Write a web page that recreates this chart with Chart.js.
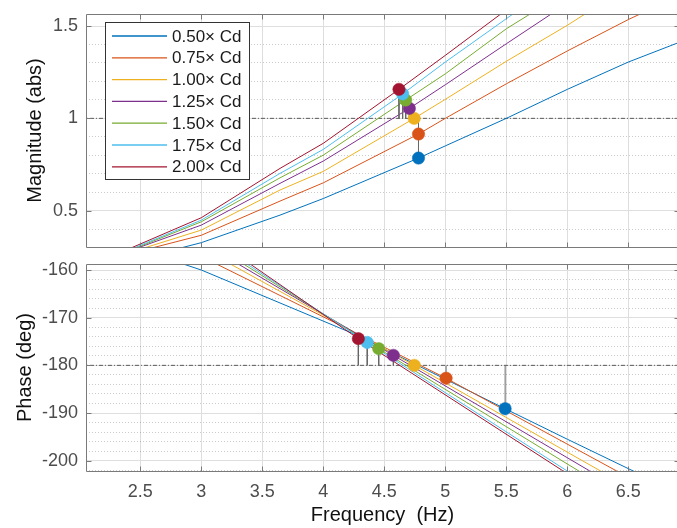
<!DOCTYPE html>
<html>
<head>
<meta charset="utf-8">
<script src="https://cdn.jsdelivr.net/npm/chart.js@4.4.1/dist/chart.umd.min.js"></script>
<style>
html,body{margin:0;padding:0;background:#fff;overflow:hidden;width:677px;height:528px;}
#wrap{position:relative;width:677px;height:528px;overflow:hidden;background:#fff;}
canvas{position:absolute;left:0;}
#c1{top:0;}
#c2{top:255px;}
</style>
</head>
<body>
<div id="wrap">
<canvas id="c1" width="692" height="255"></canvas>
<canvas id="c2" width="692" height="273"></canvas>
</div>
<script>
// ---------------- DATA ----------------
const seriesLabels = ['0.50\u00d7 Cd','0.75\u00d7 Cd','1.00\u00d7 Cd','1.25\u00d7 Cd','1.50\u00d7 Cd','1.75\u00d7 Cd','2.00\u00d7 Cd'];

// Magnitude curves (frequency in Hz, magnitude in abs)
const magFreq = [
  [2.70, 3.00, 3.645, 4.00, 4.78, 5.00, 5.50, 6.00, 6.50, 6.95],
  [2.50, 3.00, 3.645, 4.00, 4.78, 5.00, 5.50, 6.00, 6.50, 6.70],
  [2.40, 3.00, 3.645, 4.00, 4.745, 5.00, 5.50, 6.00, 6.25],
  [2.35, 3.00, 3.645, 4.00, 4.705, 5.00, 5.50, 5.95],
  [2.35, 3.00, 3.645, 4.00, 4.675, 5.00, 5.50, 5.80],
  [2.30, 3.00, 3.645, 4.00, 4.65, 5.00, 5.65],
  [2.30, 3.00, 3.645, 4.00, 4.62, 5.00, 5.55]
];
const magValue = [
  [0.276, 0.327, 0.476, 0.566, 0.785, 0.851, 1.000, 1.157, 1.305, 1.420],
  [0.282, 0.367, 0.552, 0.651, 0.915, 1.000, 1.187, 1.365, 1.535, 1.597],
  [0.271, 0.395, 0.612, 0.713, 1.000, 1.103, 1.309, 1.504, 1.609],
  [0.268, 0.422, 0.648, 0.769, 1.054, 1.182, 1.404, 1.601],
  [0.268, 0.440, 0.678, 0.801, 1.099, 1.241, 1.485, 1.608],
  [0.258, 0.449, 0.702, 0.832, 1.132, 1.305, 1.610],
  [0.263, 0.462, 0.729, 0.865, 1.157, 1.341, 1.612]
];

// Phase curves (frequency in Hz, phase in deg)
const phaseFreq = [
  [2.70, 3.00, 4.25, 5.49, 6.00, 6.60],
  [3.05, 4.25, 5.006, 6.40, 6.50],
  [3.15, 4.746, 6.268, 6.35],
  [3.20, 4.574, 6.18, 6.25],
  [3.25, 4.454, 6.09, 6.15],
  [3.30, 4.36, 5.995, 6.05],
  [3.30, 4.287, 5.962, 6.02]
];
const phaseValue = [
  [-157.45, -160.0, -173.4, -189.1, -195.5, -202.9],
  [-157.8, -173.0, -182.7, -202.1, -203.5],
  [-157.5, -180.0, -202.1, -203.3],
  [-157.2, -177.9, -202.1, -203.2],
  [-157.2, -176.5, -202.1, -203.0],
  [-157.5, -175.2, -202.1, -203.0],
  [-156.97, -174.4, -202.1, -203.1]
];

// Gain-margin markers (magnitude plot) and phase-margin markers (phase plot)
const gmFreq  = [4.78, 4.78, 4.745, 4.705, 4.675, 4.65, 4.62];
const gmMag   = [0.785, 0.915, 1.000, 1.054, 1.099, 1.132, 1.157];
const pmFreq  = [5.49, 5.006, 4.746, 4.574, 4.454, 4.36, 4.287];
const pmPhase = [-189.1, -182.7, -180.0, -177.9, -176.5, -175.2, -174.4];

const magThreshold = 1;
const phaseThreshold = -180;

// axis ranges / ticks
const freqMin = 2.055, freqMax = 6.915, freqStep = 0.5;
const magMin = 0.3035, magMax = 1.565, magStep = 0.1, magMajor = 0.5;
const phaseMin = -202.16, phaseMax = -158.74, phaseStep = 2, phaseMajor = 10;

// ---------------- STYLE ----------------
const seriesColors = ['#0072BD','#D95319','#EDB120','#7E2F8E','#77AC30','#4DBEEE','#A2142F'];
const FONT = "'Liberation Sans', Arial, Helvetica, sans-serif";
Chart.defaults.font.family = FONT;
const tickColor = '#4d4d4d';
const boxColor = '#7a7a7a';
const gridMajor = '#dedede';
const gridMinor = 'rgba(0,0,0,0.2)';

function isMultiple(v, m){ return Math.abs(v/m - Math.round(v/m)) < 1e-6; }

function curveSets(fr, vals){
  return seriesLabels.map((lab,i)=>({
    label: lab,
    data: fr[i].map((f,k)=>({x:f, y:vals[i][k]})),
    showLine: true, borderColor: seriesColors[i], backgroundColor: seriesColors[i],
    borderWidth: 1, pointRadius: 0, tension: 0, fill: false, order: 20 - i
  }));
}
function markerSets(fr, vals){
  return seriesLabels.map((lab,i)=>({
    label: '_m'+i,
    data: [{x: fr[i], y: vals[i]}],
    showLine: false, pointRadius: 6.2, pointBackgroundColor: seriesColors[i],
    pointBorderColor: seriesColors[i], pointBorderWidth: 0.5, order: -10 - i
  }));
}
function stemSets(fr, vals, thr){
  return seriesLabels.map((lab,i)=>({
    label: '_s'+i,
    data: [{x: fr[i], y: vals[i]}, {x: fr[i], y: thr}],
    showLine: true, borderColor: '#666666', borderWidth: 1, pointRadius: 0, order: 0
  }));
}
function thresholdSet(thr){
  return {
    label: '_t',
    data: [{x: freqMin - 1, y: thr}, {x: freqMax + 1, y: thr}],
    showLine: true, borderColor: '#5a5a5a', borderWidth: 1, borderDash: [4,2,1,2],
    pointRadius: 0, order: 30
  };
}

const boxPlugin = {
  id: 'boxTicks',
  afterDatasetsDraw(chart, args, opts){
    const {ctx, chartArea: a} = chart;
    const xs = chart.scales.x, ys = chart.scales.y;
    ctx.save();
    ctx.strokeStyle = boxColor; ctx.lineWidth = 1;
    const L = Math.round(a.left)+0.5, R = Math.round(a.right)+0.5, T = Math.round(a.top)+0.5, B = Math.round(a.bottom)+0.5;
    ctx.beginPath();
    ctx.rect(L, T, R-L, B-T);
    xs.ticks.forEach(t=>{
      const p = Math.round(xs.getPixelForValue(t.value))+0.5;
      ctx.moveTo(p, B); ctx.lineTo(p, B-5);
      ctx.moveTo(p, T); ctx.lineTo(p, T+5);
    });
    ys.ticks.forEach(t=>{
      if(!isMultiple(t.value, opts.major)) return;
      const p = Math.round(ys.getPixelForValue(t.value))+0.5;
      ctx.moveTo(L, p); ctx.lineTo(L+5, p);
      ctx.moveTo(R, p); ctx.lineTo(R-5, p);
    });
    ctx.stroke();
    ctx.restore();
  }
};

const legendPlugin = {
  id: 'boxLegend',
  afterDraw(chart, args, opts){
    if(!opts.show) return;
    const ctx = chart.ctx;
    ctx.save();
    ctx.fillStyle = '#fff';
    ctx.fillRect(106, 22, 143, 157);
    ctx.strokeStyle = '#333'; ctx.lineWidth = 1;
    ctx.strokeRect(105.5, 22.5, 144, 157);
    ctx.font = '17px ' + FONT;
    ctx.textBaseline = 'middle';
    ctx.textAlign = 'left';
    seriesLabels.forEach((lab,i)=>{
      const y = 36 + i*21.8;
      ctx.strokeStyle = seriesColors[i];
      ctx.lineWidth = 1.3;
      ctx.beginPath(); ctx.moveTo(112, y); ctx.lineTo(167, y); ctx.stroke();
      ctx.fillStyle = '#1a1a1a';
      ctx.fillText(lab, 172, y + 1);
    });
    ctx.restore();
  }
};

function yAxis(min, max, step, major, title, titlePad){
  return {
    type: 'linear', position: 'left', min, max,
    ticks: {
      stepSize: step, includeBounds: false, autoSkip: false,
      color: tickColor, padding: 8, font: {size: 18, family: FONT},
      callback: v => isMultiple(v, major) ? String(Math.round(v*1000)/1000) : ''
    },
    grid: {
      drawTicks: false,
      color: c => (c.tick && isMultiple(c.tick.value, major)) ? gridMajor : gridMinor,
      lineWidth: 1
    },
    border: { display: false, dash: c => (c.tick && !isMultiple(c.tick.value, major)) ? [1,2] : [] },
    title: { display: true, text: title, color: '#111', font: {size: 20, family: FONT}, padding: {top: titlePad, bottom: 0} },
    afterFit: s => { s.width = 86; s.paddingTop = 0; s.paddingBottom = 0; }
  };
}
function xAxis(showLabels, height){
  return {
    type: 'linear', position: 'bottom', min: freqMin, max: freqMax,
    ticks: {
      display: showLabels, stepSize: freqStep, includeBounds: false, autoSkip: false, maxRotation: 0,
      color: tickColor, padding: 10, font: {size: 18, family: FONT},
      callback: v => String(v)
    },
    grid: { drawTicks: false, color: gridMajor, lineWidth: 1 },
    border: { display: false },
    title: showLabels ? { display: true, text: 'Frequency  (Hz)', color: '#111', font: {size: 20, family: FONT}, padding: {top: 0, bottom: 1} } : {display: false},
    afterFit: s => { s.height = height; s.paddingLeft = 0; s.paddingRight = 0; }
  };
}

const common = {
  responsive: false, animation: false, devicePixelRatio: 1, events: [],
  plugins: { legend: {display: false}, tooltip: {enabled: false} }
};

new Chart(document.getElementById('c1'), {
  type: 'scatter',
  data: { datasets: [
    ...markerSets(gmFreq, gmMag),
    ...stemSets(gmFreq, gmMag, magThreshold),
    ...curveSets(magFreq, magValue),
    thresholdSet(magThreshold)
  ]},
  options: Object.assign({}, common, {
    layout: { padding: {left: 0, top: 14, right: 13, bottom: 0} },
    scales: { x: xAxis(false, 8), y: yAxis(magMin, magMax, magStep, magMajor, 'Magnitude (abs)', 23) },
    plugins: { legend: {display: false}, tooltip: {enabled: false}, boxTicks: {major: magMajor}, boxLegend: {show: true} }
  }),
  plugins: [boxPlugin, legendPlugin]
});

new Chart(document.getElementById('c2'), {
  type: 'scatter',
  data: { datasets: [
    ...markerSets(pmFreq, pmPhase),
    ...stemSets(pmFreq, pmPhase, phaseThreshold),
    ...curveSets(phaseFreq, phaseValue),
    thresholdSet(phaseThreshold)
  ]},
  options: Object.assign({}, common, {
    layout: { padding: {left: 0, top: 9, right: 13, bottom: 0} },
    scales: { x: xAxis(true, 57), y: yAxis(phaseMin, phaseMax, phaseStep, phaseMajor, 'Phase (deg)', 13) },
    plugins: { legend: {display: false}, tooltip: {enabled: false}, boxTicks: {major: phaseMajor}, boxLegend: {show: false} }
  }),
  plugins: [boxPlugin, legendPlugin]
});
</script>
</body>
</html>
